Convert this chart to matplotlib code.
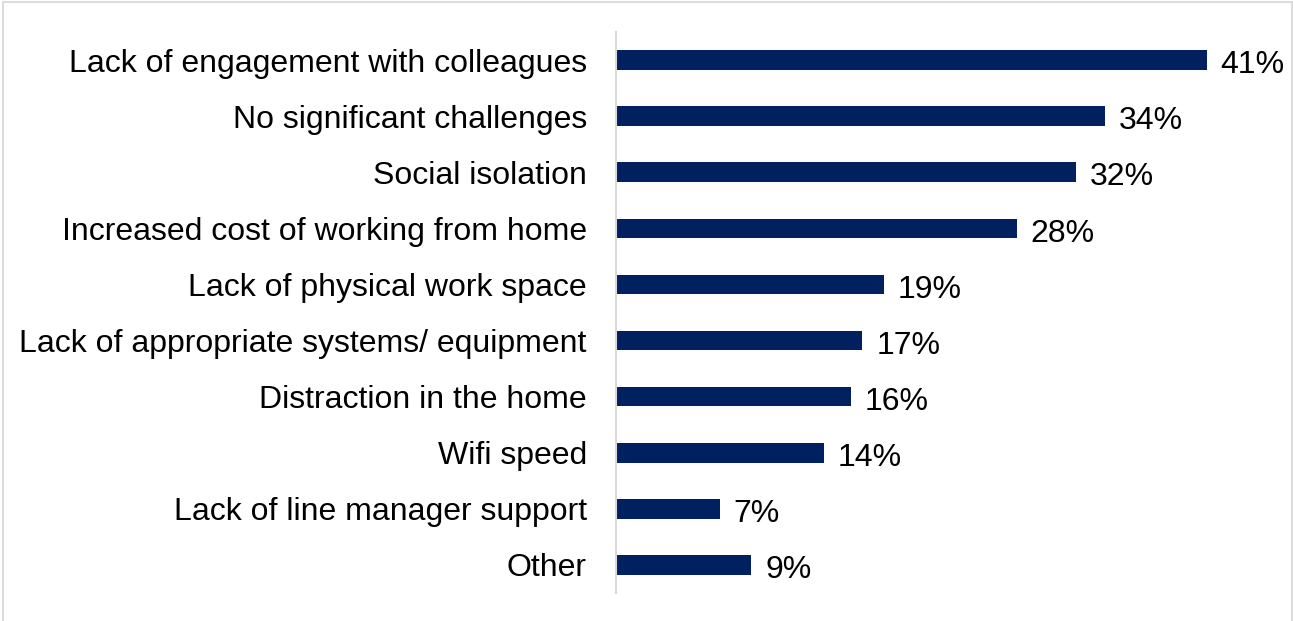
import matplotlib.pyplot as plt
from matplotlib.patches import Rectangle

plt.rcParams['font.family'] = ['Liberation Sans', 'DejaVu Sans']

categories = [
    "Lack of engagement with colleagues",
    "No significant challenges",
    "Social isolation",
    "Increased cost of working from home",
    "Lack of physical work space",
    "Lack of appropriate systems/ equipment",
    "Distraction in the home",
    "Wifi speed",
    "Lack of line manager support",
    "Other",
]
# bar lengths; the labels show them rounded
values = [41.0, 33.9, 31.9, 27.8, 18.6, 17.1, 16.3, 14.4, 7.2, 9.4]

W, H = 1293, 621
fig = plt.figure(figsize=(W / 100, H / 100), dpi=100)
ax = fig.add_axes([616 / W, 28 / H, 663 / W, 561 / H])

ypos = list(range(len(categories)))
ax.barh(ypos, values, height=0.35, color='#002060')

for y, v in zip(ypos, values):
    ax.text(v + 0.95, y + 0.03, f"{v:.0f}%", va='center_baseline', ha='left',
            fontsize=23, color='black')

ax.set_xlim(0, 46)
ax.set_ylim(len(categories) - 0.5, -0.5)
ax.set_yticks(ypos)
ax.set_yticklabels(categories, fontsize=23, color='black')
ax.tick_params(axis='y', length=0, pad=21)
ax.set_xticks([])

for s in ['top', 'right', 'bottom']:
    ax.spines[s].set_visible(False)
ax.spines['left'].set_color('#d9d9d9')
ax.spines['left'].set_linewidth(1.5)

# light grey frame round the chart (bottom edge falls outside the picture)
fig.patches.append(Rectangle((3, -10), W - 4, H + 8, transform=None, fill=False,
                             edgecolor='#dcdcdc', linewidth=1.5))

fig.savefig('out.png', dpi=100)
